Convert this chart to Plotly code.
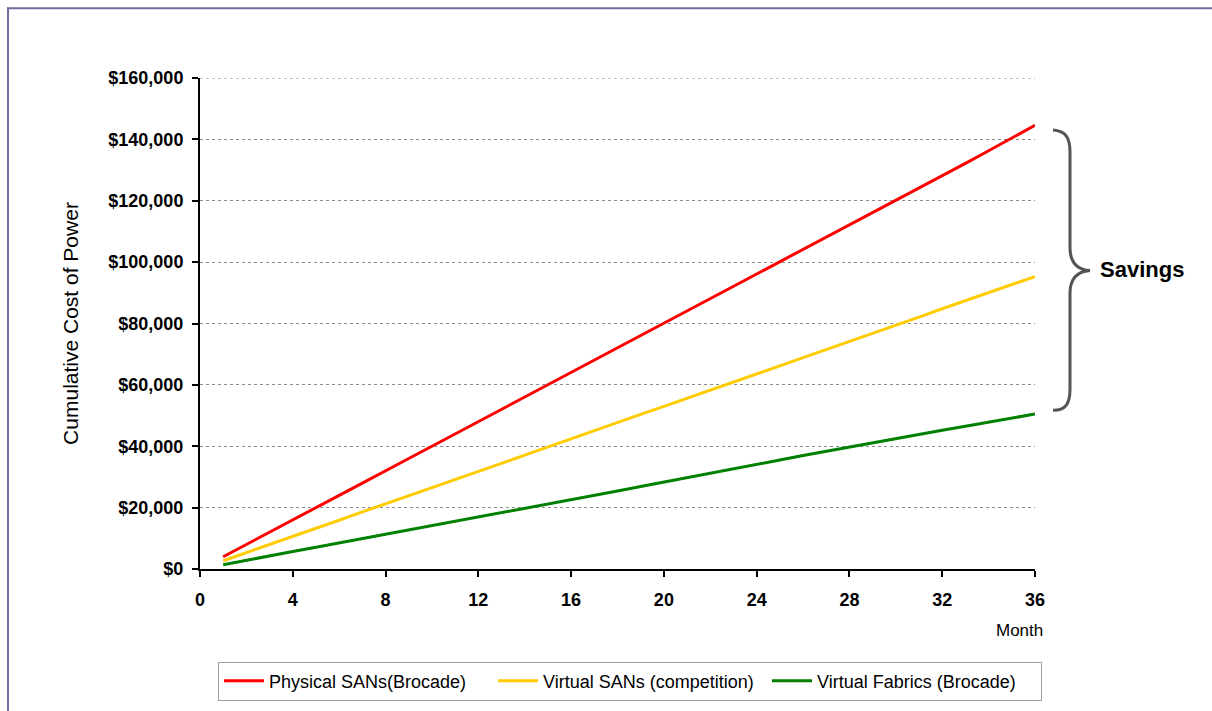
import plotly.graph_objects as go

# Cumulative cost of power by month
months = list(range(1, 37))

physical_sans = [4000, 8050, 12000, 16100, 20000, 24000, 28000, 32100, 36000, 40000,
                 44000, 48100, 52000, 56000, 60200, 64000, 68000, 72000, 76100, 80100,
                 84000, 88000, 92100, 96200, 100200, 104000, 108000, 112000, 116000, 120000,
                 124000, 128000, 132200, 136300, 140500, 144600]

virtual_sans = [2700, 5300, 8000, 10600, 13300, 15900, 18600, 21200, 23800, 26500,
                29200, 31800, 34400, 37100, 39800, 42400, 45000, 47700, 50400, 53000,
                55600, 58300, 61000, 63600, 66200, 68900, 71500, 74200, 76900, 79500,
                82100, 84800, 87400, 90100, 92700, 95300]

virtual_fabrics = [1400, 2900, 4300, 5700, 7100, 8500, 9900, 11300, 12700, 14100,
                   15500, 16900, 18300, 19600, 21000, 22400, 23900, 25400, 26900, 28300,
                   29800, 31200, 32600, 34000, 35500, 37000, 38400, 39800, 41200, 42500,
                   43900, 45200, 46500, 47900, 49200, 50500]

series_names = ["Physical SANs(Brocade)", "Virtual SANs (competition)", "Virtual Fabrics (Brocade)"]
series_colors = ["#ff0000", "#ffcc00", "#008000"]

y_tickvals = [0, 20000, 40000, 60000, 80000, 100000, 120000, 140000, 160000]
y_ticktext = ["$0", "$20,000", "$40,000", "$60,000", "$80,000", "$100,000",
              "$120,000", "$140,000", "$160,000"]
x_tickvals = [0, 4, 8, 12, 16, 20, 24, 28, 32, 36]

W, H = 1212, 711
L, R, T, B = 200, 1035, 78, 570  # plot area edges in pixels
FONT = "Liberation Sans, Arial"


def px(x):
    return (x - L) / (R - L)


def py(y):
    return (B - y) / (B - T)


fig = go.Figure()
for name, vals, col in zip(series_names, [physical_sans, virtual_sans, virtual_fabrics], series_colors):
    fig.add_trace(go.Scatter(x=months, y=vals, mode="lines", name=name,
                             line=dict(color=col, width=3)))

# curly brace beside the line ends
brace = (
    f"M {px(1053)},{py(130)} "
    f"C {px(1066)},{py(131)} {px(1070)},{py(138)} {px(1070)},{py(152)} "
    f"L {px(1070)},{py(248)} "
    f"C {px(1070)},{py(262)} {px(1076)},{py(270)} {px(1090)},{py(271)} "
    f"C {px(1076)},{py(272)} {px(1070)},{py(280)} {px(1070)},{py(294)} "
    f"L {px(1070)},{py(390)} "
    f"C {px(1070)},{py(404)} {px(1066)},{py(411)} {px(1053)},{py(411)}"
)

shapes = [
    dict(type="path", path=brace, xref="paper", yref="paper",
         line=dict(color="#555555", width=3)),
    # dashed gridline along the top of the value range
    dict(type="line", xref="paper", yref="y", x0=0, x1=1, y0=y_tickvals[-1], y1=y_tickvals[-1],
         line=dict(color="#8c8c8c", width=1, dash="3px,3px"), layer="below"),
    # frame edges (top and left)
    dict(type="line", xref="paper", yref="paper", x0=px(7), x1=px(W + 5), y0=py(8), y1=py(8),
         line=dict(color="#6e6e9e", width=2)),
    dict(type="line", xref="paper", yref="paper", x0=px(8), x1=px(8), y0=py(7), y1=py(H + 5),
         line=dict(color="#6e6e9e", width=2)),
]

annotations = [
    dict(text="<b>Savings</b>", xref="paper", yref="paper", x=px(1098), y=py(270),
         xanchor="left", yanchor="middle", showarrow=False,
         font=dict(family=FONT, size=22, color="#000000")),
    dict(text="Month", xref="paper", yref="paper", x=px(1019), y=py(632),
         xanchor="center", yanchor="middle", showarrow=False,
         font=dict(family=FONT, size=17, color="#000000")),
]

fig.update_layout(
    width=W, height=H,
    margin=dict(l=L, r=W - R, t=T, b=H - B, pad=0),
    paper_bgcolor="white", plot_bgcolor="white",
    font=dict(family=FONT, color="#000000"),
    showlegend=True,
    legend=dict(orientation="h", x=px(630), y=py(681), xanchor="center", yanchor="middle",
                bordercolor="#a0a0a0", borderwidth=1, bgcolor="white",
                font=dict(family=FONT, size=18),
                itemwidth=40, entrywidth=219, entrywidthmode="pixels", tracegroupgap=0),
    shapes=shapes,
    annotations=annotations,
)

fig.update_xaxes(range=[0, 36], tickvals=x_tickvals, ticks="outside", ticklen=6, tickwidth=2,
                 tickcolor="black", showline=True, linecolor="black", linewidth=2,
                 showgrid=False, zeroline=False, ticklabelstandoff=7,
                 tickfont=dict(family=FONT, size=18, color="black", weight="bold"))

fig.update_yaxes(range=[0, 160000], tickmode="array", tickvals=y_tickvals, ticktext=y_ticktext,
                 ticks="outside", ticklen=6, tickwidth=2, tickcolor="black",
                 showline=True, linecolor="black", linewidth=2, zeroline=False,
                 showgrid=True, gridcolor="#8c8c8c", gridwidth=1, griddash="3px,3px",
                 ticklabelstandoff=5,
                 tickfont=dict(family=FONT, size=18, color="black", weight="bold"),
                 title=dict(text="Cumulative Cost of Power", standoff=24,
                            font=dict(family=FONT, size=21, color="black")))

fig.write_html("out.html")
